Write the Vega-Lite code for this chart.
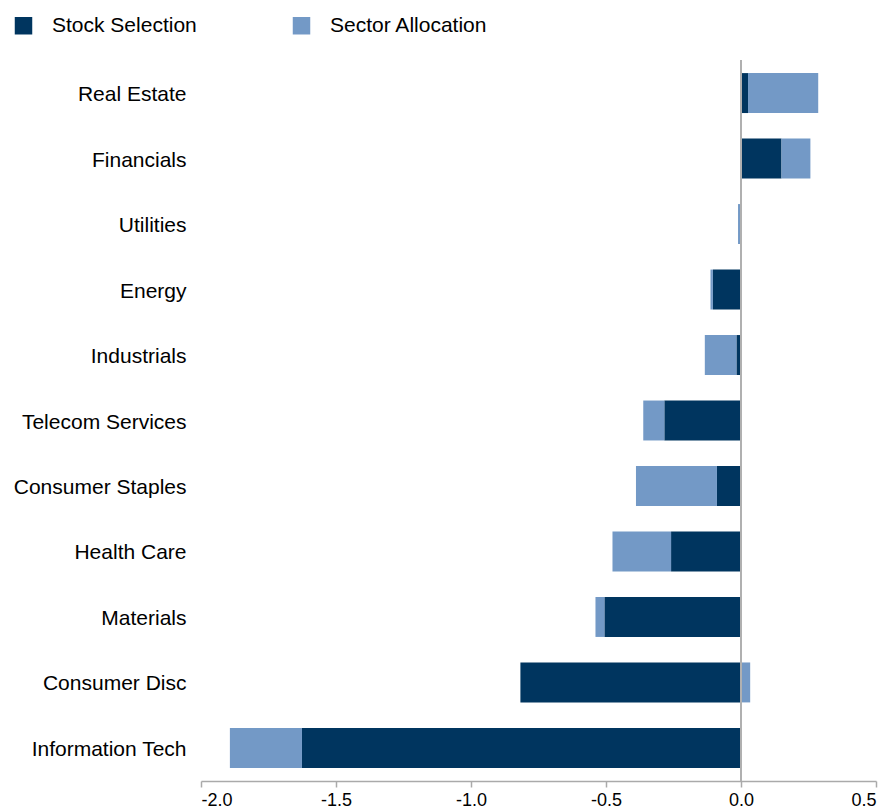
{
  "$schema": "https://vega.github.io/schema/vega-lite/v6.json",
  "autosize": "none",
  "width": 675,
  "height": 721,
  "padding": {"left": 201, "top": 60, "right": 14, "bottom": 28},
  "background": "white",
  "config": {
    "view": {"stroke": null},
    "font": "Liberation Sans",
    "axis": {"labelFont": "Liberation Sans", "labelColor": "#000000"},
    "legend": {"labelFont": "Liberation Sans", "labelColor": "#000000"}
  },
  "data": {
    "values": [
      {"Sector": "Real Estate", "Component": "Stock Selection", "Value": 0.026},
      {"Sector": "Real Estate", "Component": "Sector Allocation", "Value": 0.26},
      {"Sector": "Financials", "Component": "Stock Selection", "Value": 0.15},
      {"Sector": "Financials", "Component": "Sector Allocation", "Value": 0.107},
      {"Sector": "Utilities", "Component": "Stock Selection", "Value": 0.0},
      {"Sector": "Utilities", "Component": "Sector Allocation", "Value": -0.011},
      {"Sector": "Energy", "Component": "Stock Selection", "Value": -0.104},
      {"Sector": "Energy", "Component": "Sector Allocation", "Value": -0.009},
      {"Sector": "Industrials", "Component": "Stock Selection", "Value": -0.017},
      {"Sector": "Industrials", "Component": "Sector Allocation", "Value": -0.117},
      {"Sector": "Telecom Services", "Component": "Stock Selection", "Value": -0.284},
      {"Sector": "Telecom Services", "Component": "Sector Allocation", "Value": -0.078},
      {"Sector": "Consumer Staples", "Component": "Stock Selection", "Value": -0.089},
      {"Sector": "Consumer Staples", "Component": "Sector Allocation", "Value": -0.3},
      {"Sector": "Health Care", "Component": "Stock Selection", "Value": -0.259},
      {"Sector": "Health Care", "Component": "Sector Allocation", "Value": -0.217},
      {"Sector": "Materials", "Component": "Stock Selection", "Value": -0.506},
      {"Sector": "Materials", "Component": "Sector Allocation", "Value": -0.033},
      {"Sector": "Consumer Disc", "Component": "Stock Selection", "Value": -0.817},
      {"Sector": "Consumer Disc", "Component": "Sector Allocation", "Value": 0.034},
      {"Sector": "Information Tech", "Component": "Stock Selection", "Value": -1.626},
      {"Sector": "Information Tech", "Component": "Sector Allocation", "Value": -0.267}
    ]
  },
  "layer": [
    {
      "mark": {"type": "bar"},
      "encoding": {
        "y": {
          "field": "Sector",
          "type": "nominal",
          "sort": ["Real Estate", "Financials", "Utilities", "Energy", "Industrials", "Telecom Services", "Consumer Staples", "Health Care", "Materials", "Consumer Disc", "Information Tech"],
          "scale": {"paddingInner": 0.39, "paddingOuter": 0.2},
          "axis": {
            "title": null,
            "domain": false,
            "ticks": false,
            "labelFontSize": 21,
            "labelPadding": 15,
            "labelOffset": 2,
            "labelLimit": 300
          }
        },
        "x": {
          "field": "Value",
          "type": "quantitative",
          "stack": "zero",
          "scale": {"domain": [-2, 0.5], "nice": false, "zero": false},
          "axis": {
            "title": null,
            "grid": false,
            "values": [-2, -1.5, -1, -0.5, 0, 0.5],
            "labelExpr": "replace(format(datum.value, '.1f'), '\u2212', '-')",
            "domainColor": "#aaaaaa",
            "domainWidth": 1.5,
            "tickColor": "#aaaaaa",
            "tickWidth": 1.5,
            "tickSize": 6,
            "labelFontSize": 18,
            "labelPadding": 4
          }
        },
        "color": {
          "field": "Component",
          "type": "nominal",
          "scale": {"domain": ["Stock Selection", "Sector Allocation"], "range": ["#00355F", "#7399C6"]},
          "legend": {
            "title": null,
            "orient": "none",
            "direction": "horizontal",
            "legendX": -188,
            "legendY": -45,
            "symbolType": "square",
            "symbolSize": 306,
            "symbolStrokeWidth": 0,
            "labelFontSize": 21,
            "labelOffset": 18,
            "columnPadding": 94,
            "padding": 0,
            "labelLimit": 300
          }
        },
        "order": {"field": "Component", "sort": "descending"}
      }
    },
    {
      "mark": {"type": "rule", "color": "#b0b0b0", "strokeWidth": 1.5},
      "encoding": {"x": {"datum": 0}}
    }
  ]
}
